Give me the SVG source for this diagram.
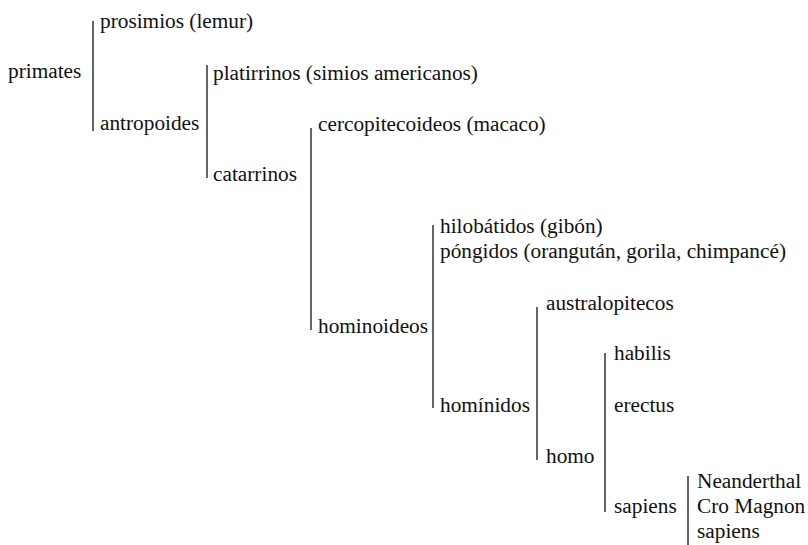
<svg xmlns="http://www.w3.org/2000/svg" width="808" height="545" viewBox="0 0 808 545">
<style>
.lbl{font-family:"Liberation Serif","Times New Roman",serif;font-size:21.3px;fill:#111}
.br{stroke:#333;stroke-width:1.5;fill:none}
</style>
<rect width="808" height="545" fill="#fff"/>
<g id="connectors">
<line class="br" x1="93" y1="21" x2="93" y2="131"/>
<line class="br" x1="207" y1="65" x2="207" y2="178"/>
<line class="br" x1="311" y1="128" x2="311" y2="330"/>
<line class="br" x1="433" y1="225" x2="433" y2="408"/>
<line class="br" x1="537" y1="307" x2="537" y2="460"/>
<line class="br" x1="605" y1="353" x2="605" y2="512"/>
<line class="br" x1="688" y1="476" x2="688" y2="545"/>
</g>
<g id="primates"><text class="lbl" x="8" y="78">primates</text></g>
<g id="prosimios"><text class="lbl" x="100" y="28">prosimios (lemur)</text></g>
<g id="antropoides"><text class="lbl" x="100" y="130">antropoides</text></g>
<g id="platirrinos"><text class="lbl" x="213" y="80">platirrinos (simios americanos)</text></g>
<g id="catarrinos"><text class="lbl" x="213" y="181">catarrinos</text></g>
<g id="cercopitecoideos"><text class="lbl" x="318" y="131">cercopitecoideos (macaco)</text></g>
<g id="hominoideos"><text class="lbl" x="318" y="333">hominoideos</text></g>
<g id="hilobatidos"><text class="lbl" x="440" y="233">hilobátidos (gibón)</text></g>
<g id="pongidos"><text class="lbl" x="440" y="258">póngidos (orangután, gorila, chimpancé)</text></g>
<g id="hominidos"><text class="lbl" x="440" y="412">homínidos</text></g>
<g id="australopitecos"><text class="lbl" x="546" y="310">australopitecos</text></g>
<g id="homo"><text class="lbl" x="546" y="463">homo</text></g>
<g id="habilis"><text class="lbl" x="614" y="360">habilis</text></g>
<g id="erectus"><text class="lbl" x="614" y="412">erectus</text></g>
<g id="sapiens-sp"><text class="lbl" x="614" y="513">sapiens</text></g>
<g id="subspecies">
<text class="lbl" x="697" y="488">Neanderthal</text>
<text class="lbl" x="697" y="513">Cro Magnon</text>
<text class="lbl" x="697" y="538">sapiens</text>
</g>
</svg>
